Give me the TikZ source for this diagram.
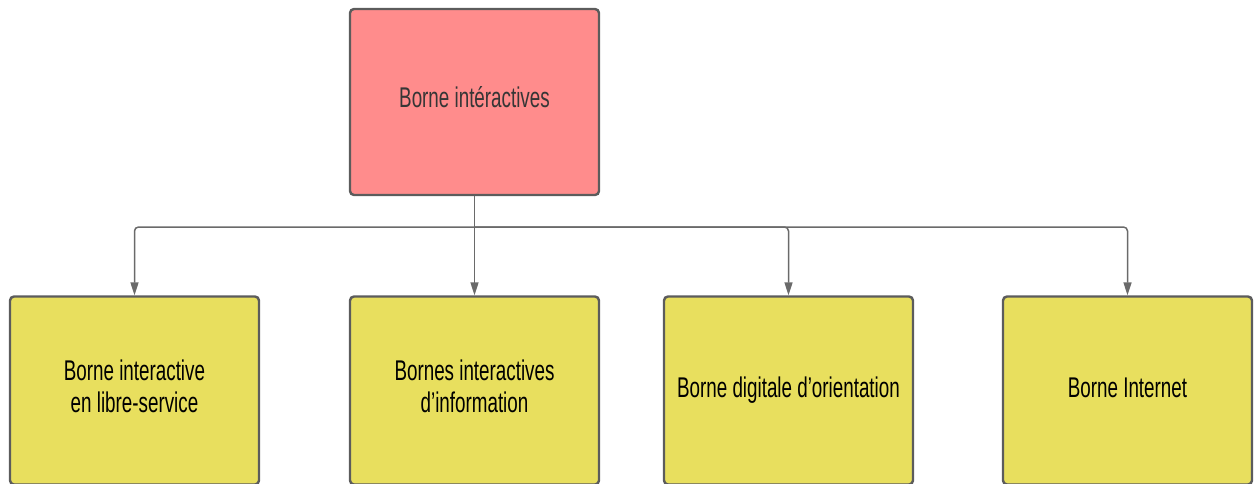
\documentclass[tikz,border=0pt]{standalone}
\usepackage{fontspec}
\setmainfont[FakeStretch=0.66]{Liberation Sans}
\usetikzlibrary{arrows.meta}
\definecolor{rootfill}{HTML}{FF8C8C}
\definecolor{leaffill}{HTML}{E8DF5E}
\definecolor{boxline}{HTML}{5C5C5C}
\definecolor{wire}{HTML}{6A6A6A}
\definecolor{roottext}{HTML}{363636}
\newcommand{\twolines}[2]{\raisebox{4pt}{\begin{tabular}{@{}c@{}}#1\\#2\end{tabular}}}
\tikzset{
  box/.style={draw=boxline, line width=2.4pt, rounded corners=4pt,
    minimum width=249pt, inner sep=0pt,
    align=center, font=\fontsize{28.5}{32}\selectfont},
  rootbox/.style={box, minimum height=186pt, fill=rootfill, text=roottext},
  leafbox/.style={box, minimum height=188pt, fill=leaffill, text=black},
  wirearrow/.style={draw=wire, line width=1.5pt, rounded corners=4pt,
    -{Triangle[length=13pt,width=8pt]}},
  wireline/.style={draw=wire, line width=1.5pt}
}
\begin{document}
\begin{tikzpicture}[x=1pt,y=-1pt]
  \useasboundingbox (0,0) rectangle (1259,483);
  % top-level category
  \node[rootbox] (root) at (474.5,102) {\raisebox{9pt}{Borne intéractives}};
  % subcategories
  \node[leafbox] (a) at (134.5,390.5) {\twolines{Borne interactive}{en libre-service}};
  \node[leafbox] (b) at (474.5,390.5) {\twolines{Bornes interactives}{d’information}};
  \node[leafbox] (c) at (788.5,390.5) {\raisebox{6pt}{Borne digitale d’orientation}};
  \node[leafbox] (d) at (1127.5,390.5) {\raisebox{6pt}{Borne Internet}};
  % distribution bus
  \coordinate (bus) at (474.5,227);
  \draw[wireline] (root.south) -- (bus);
  \draw[wirearrow] (bus) -| (a.north);
  \draw[wirearrow] (bus) -- (b.north);
  \draw[wirearrow] (bus) -| (c.north);
  \draw[wirearrow] (bus) -| (d.north);
\end{tikzpicture}
\end{document}
